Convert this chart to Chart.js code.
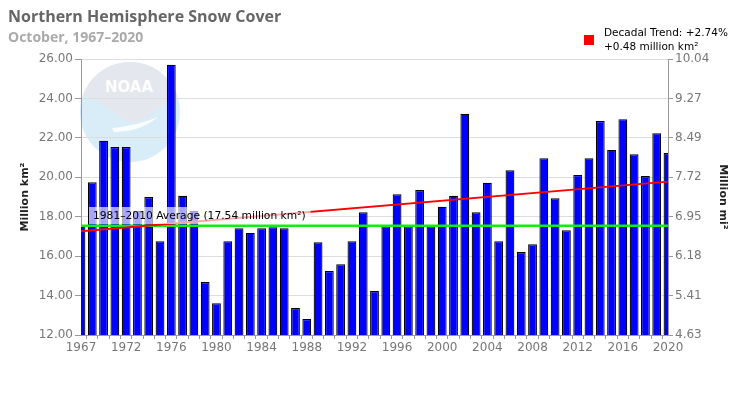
<!DOCTYPE html>
<html>
<head>
<meta charset="utf-8">
<script src="https://cdn.jsdelivr.net/npm/chart.js@4.4.0/dist/chart.umd.min.js"></script>
<style>
  html, body { margin: 0; padding: 0; background: #fff; }
  #wrap { width: 750px; height: 400px; }
</style>
</head>
<body>
<div id="wrap"><canvas id="snowChart" width="750" height="400"></canvas></div>
<script>
// October NH snow cover, million km² (1969 has no data)
const years = [
    '1967', '1968', '1970', '1971', '1972', '1973', '1974', '1975', '1976', '1977',
    '1978', '1979', '1980', '1981', '1982', '1983', '1984', '1985', '1986', '1987',
    '1988', '1989', '1990', '1991', '1992', '1993', '1994', '1995', '1996', '1997',
    '1998', '1999', '2000', '2001', '2002', '2003', '2004', '2005', '2006', '2007',
    '2008', '2009', '2010', '2011', '2012', '2013', '2014', '2015', '2016', '2017',
    '2018', '2019', '2020'
];
const snowCover = [
    17.58, 19.75, 21.85, 21.53, 21.53, 18.30, 19.00, 16.76, 25.71, 19.06,
    18.30, 14.69, 13.61, 16.76, 17.42, 17.18, 17.42, 17.47, 17.42, 13.37,
    12.81, 16.70, 15.25, 15.59, 16.76, 18.23, 14.23, 17.52, 19.14, 17.52,
    19.35, 17.52, 18.50, 19.06, 23.22, 18.23, 19.72, 16.76, 20.36, 16.21,
    16.60, 20.97, 18.94, 17.31, 20.11, 20.97, 22.85, 21.39, 22.95, 21.17,
    20.06, 22.24, 21.23
];
const averageValue = 17.54;
const trendEnds = [17.26, 19.78];
const rightTickLabels = ['4.63', '5.41', '6.18', '6.95', '7.72', '8.49', '9.27', '10.04'];

const titleText = 'Northern Hemisphere Snow Cover';
const subtitleText = 'October, 1967\u20132020';
const legendLines = ['Decadal Trend: +2.74%', '+0.48 million km\u00b2'];
const averageLabel = '1981\u20132010 Average (17.54 million km\u00b2)';

const tickFont = { family: 'DejaVu Sans', size: 12 };
const tickColor = '#777';
const axisColor = '#999';

// faded NOAA logo behind the plot
const noaaLogo = {
    id: 'noaaLogo',
    beforeDraw(chart) {
        const ctx = chart.ctx;
        const cx = 130, cy = 112, r = 50;
        ctx.save();
        ctx.beginPath();
        ctx.arc(cx, cy, r, 0, Math.PI * 2);
        ctx.clip();
        ctx.fillStyle = '#d9edf8';
        ctx.fillRect(cx - r, cy - r, r * 2, r * 2);
        ctx.fillStyle = '#e4e7ed';
        ctx.beginPath();
        ctx.moveTo(cx - r - 2, cy - r - 2);
        ctx.lineTo(cx + r + 2, cy - r - 2);
        ctx.lineTo(cx + r + 2, cy - 18);
        ctx.bezierCurveTo(cx + 35, cy - 12, cx + 20, cy + 8, cx + 4, cy + 11);
        ctx.bezierCurveTo(cx - 12, cy + 8, cx - 30, cy - 16, cx - r - 2, cy - 18);
        ctx.closePath();
        ctx.fill();
        ctx.fillStyle = 'rgba(255,255,255,0.85)';
        ctx.beginPath();
        ctx.moveTo(cx - 18, cy + 16);
        ctx.quadraticCurveTo(cx + 6, cy + 14, cx + 28, cy + 5);
        ctx.quadraticCurveTo(cx + 10, cy + 20, cx - 16, cy + 20);
        ctx.closePath();
        ctx.fill();
        ctx.restore();

        ctx.save();
        ctx.fillStyle = 'rgba(255,255,255,0.9)';
        ctx.font = 'bold 15px "DejaVu Sans"';
        ctx.textAlign = 'center';
        ctx.textBaseline = 'middle';
        ctx.fillText('NOAA', cx - 1, 88);
        ctx.restore();
    }
};

// titles and trend legend
const header = {
    id: 'header',
    afterDraw(chart) {
        const ctx = chart.ctx;
        ctx.save();
        ctx.textBaseline = 'middle';
        ctx.textAlign = 'left';
        ctx.fillStyle = '#666';
        ctx.font = 'bold 16px "Open Sans"';
        ctx.fillText(titleText, 8, 17);
        ctx.fillStyle = '#aaa';
        ctx.font = 'bold 14px "Open Sans"';
        ctx.fillText(subtitleText, 8, 38);

        ctx.fillStyle = '#ff0000';
        ctx.fillRect(584, 35, 10, 10);
        ctx.fillStyle = '#000';
        ctx.font = '10.5px "DejaVu Sans"';
        ctx.fillText(legendLines[0], 604, 33);
        ctx.fillText(legendLines[1], 604, 47);
        ctx.restore();
    }
};

// label for the 1981-2010 average line
const avgLabel = {
    id: 'avgLabel',
    afterDatasetsDraw(chart) {
        const ctx = chart.ctx;
        ctx.save();
        ctx.font = '10.7px "DejaVu Sans"';
        const w = ctx.measureText(averageLabel).width;
        ctx.fillStyle = 'rgba(255,255,255,0.65)';
        ctx.fillRect(89, 207, w + 9, 17);
        ctx.fillStyle = '#000';
        ctx.textBaseline = 'middle';
        ctx.fillText(averageLabel, 93, 216);
        ctx.restore();
    }
};

const first = years[0];
const last = years[years.length - 1];

new Chart(document.getElementById('snowChart'), {
    type: 'bar',
    data: {
        labels: years,
        datasets: [
            {
                type: 'line',
                label: 'Trend',
                data: [{ x: first, y: trendEnds[0] }, { x: last, y: trendEnds[1] }],
                borderColor: '#ff0000',
                borderWidth: 2,
                pointRadius: 0,
                order: 1
            },
            {
                type: 'line',
                label: 'Average',
                data: [{ x: first, y: averageValue }, { x: last, y: averageValue }],
                borderColor: '#11ee11',
                borderWidth: 2.5,
                pointRadius: 0,
                order: 2
            },
            {
                label: 'Snow cover',
                data: snowCover,
                backgroundColor: '#0000ff',
                borderColor: '#000',
                borderWidth: 1.2,
                barPercentage: 0.78,
                categoryPercentage: 1,
                clip: 0,
                order: 3
            }
        ]
    },
    options: {
        responsive: false,
        animation: false,
        devicePixelRatio: 1,
        layout: { padding: { top: 59, left: 0, right: 0, bottom: 0 } },
        plugins: {
            legend: { display: false },
            tooltip: { enabled: false }
        },
        scales: {
            x: {
                type: 'category',
                offset: false,
                grid: { drawOnChartArea: false, drawTicks: true, tickLength: 4, tickColor: axisColor },
                border: { color: axisColor },
                ticks: {
                    autoSkip: false,
                    maxRotation: 0,
                    padding: 2,
                    color: tickColor,
                    font: tickFont,
                    callback: (v, i) => (i % 4 === 0 ? years[i] : '')
                },
                afterFit: s => { s.height = 65; }
            },
            y: {
                position: 'left',
                min: 12,
                max: 26,
                grid: { color: '#ddd', tickColor: axisColor, tickLength: 6 },
                border: { color: axisColor },
                ticks: {
                    stepSize: 2,
                    padding: 2,
                    color: tickColor,
                    font: tickFont,
                    callback: v => v.toFixed(2)
                },
                title: {
                    display: true,
                    text: 'Million km\u00b2',
                    color: '#222',
                    font: { family: 'DejaVu Sans', size: 11, weight: 'bold' },
                    padding: { top: 19, bottom: 0 }
                },
                afterFit: s => { s.width = 81; }
            },
            y2: {
                position: 'right',
                min: 12,
                max: 26,
                grid: { drawOnChartArea: false, tickColor: axisColor, tickLength: 5 },
                border: { color: axisColor },
                ticks: {
                    stepSize: 2,
                    padding: 2,
                    color: tickColor,
                    font: tickFont,
                    callback: (v, i) => rightTickLabels[i]
                },
                title: {
                    display: true,
                    text: 'Million mi\u00b2',
                    color: '#222',
                    font: { family: 'DejaVu Sans', size: 11, weight: 'bold' },
                    padding: { top: 21, bottom: 0 }
                },
                afterFit: s => { s.width = 82; }
            }
        }
    },
    plugins: [noaaLogo, header, avgLabel]
});
</script>
</body>
</html>
